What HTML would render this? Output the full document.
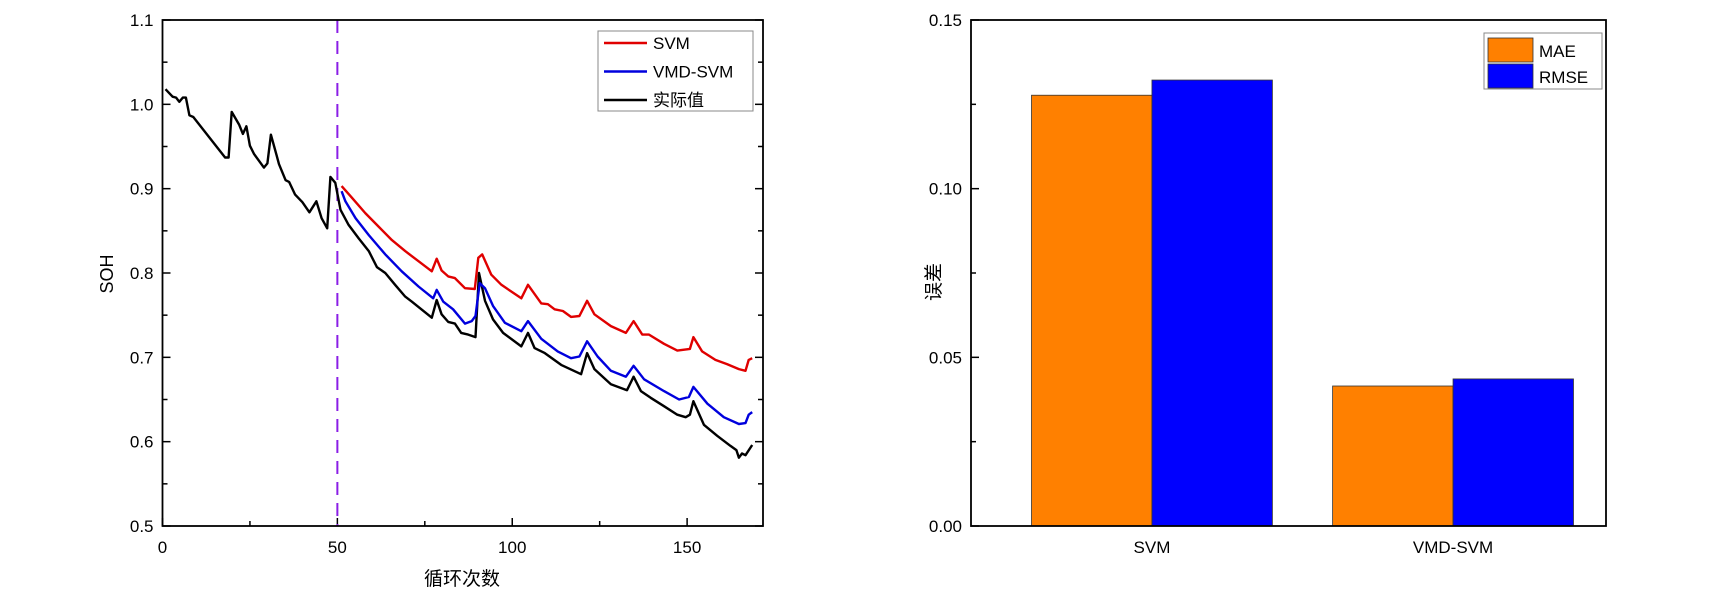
<!DOCTYPE html>
<html><head><meta charset="utf-8"><style>
html,body{margin:0;padding:0;background:#fff;}
svg{display:block;font-family:"Liberation Sans","Noto Sans CJK SC",sans-serif;}
</style></head><body>
<svg id="fig" width="1733" height="613" viewBox="0 0 1733 613" xmlns="http://www.w3.org/2000/svg">
<g id="left"></g>
<g id="right"></g>
</svg>
<script>
// ---------- Left chart data ----------
const xTicks = [0, 50, 100, 150];
const yTicks = [0.5, 0.6, 0.7, 0.8, 0.9, 1.0, 1.1];
const yTickLabels = ["0.5","0.6","0.7","0.8","0.9","1.0","1.1"];
const splitCycle = 50;
const actualCycles = [0.85,2.9,3.9,4.8,5.8,6.7,7.7,8.8,17.9,18.9,19.8,21.9,23,24,25,26.2,29,30,31,32.6,33.3,35.2,36.2,37.9,40,42,44,45.5,47.1,48,49.4,50.9,53.2,56.1,59,61.3,63.7,66.5,69.4,71.3,77,78.4,79.8,81.7,83.6,85.4,87.4,89.5,90.5,92.2,94.5,97.4,102.6,104.5,106.4,109.3,114,119.7,121.4,123.5,128.2,132.8,134.7,136.8,139.6,143.4,147.2,149.6,150.8,151.8,154.8,158.6,162.4,164.1,164.8,165.7,166.7,168.6];
const actualValues = [1.018,1.009,1.008,1.003,1.008,1.008,0.987,0.985,0.937,0.937,0.991,0.976,0.965,0.974,0.951,0.941,0.925,0.930,0.964,0.940,0.929,0.910,0.908,0.893,0.884,0.872,0.885,0.865,0.853,0.914,0.907,0.875,0.857,0.841,0.826,0.807,0.800,0.786,0.772,0.766,0.747,0.768,0.751,0.742,0.740,0.729,0.727,0.724,0.800,0.767,0.745,0.729,0.713,0.729,0.711,0.705,0.691,0.680,0.705,0.686,0.668,0.661,0.677,0.660,0.652,0.642,0.632,0.629,0.632,0.648,0.620,0.607,0.595,0.590,0.581,0.586,0.584,0.596];
const svmCycles = [51.2,54.2,58,61.8,65.6,69.4,73.2,77,78.4,79.8,81.7,83.6,86.5,89.3,90.3,91.4,94,96.9,102.6,104.5,108.3,110.2,112.1,114.5,116.8,119.2,121.4,123.5,128.2,132.5,134.7,137.2,139.1,143.4,147.2,150.8,151.8,154.3,158.1,161.4,164.8,166.7,167.6,168.6];
const svmValues = [0.903,0.889,0.871,0.855,0.839,0.826,0.814,0.802,0.817,0.803,0.796,0.794,0.782,0.781,0.818,0.822,0.798,0.786,0.770,0.786,0.764,0.763,0.757,0.755,0.748,0.749,0.767,0.751,0.737,0.729,0.743,0.727,0.727,0.716,0.708,0.710,0.724,0.707,0.697,0.692,0.686,0.684,0.697,0.699];
const vmdCycles = [51.2,52.3,55.2,59,63.7,68.4,73.2,77.4,78.4,80.3,83.1,86.5,88.4,89.5,90.7,92.2,94.5,97.9,102.6,104.5,108.3,113,116.8,119.2,121.4,124.4,128.2,132.5,134.7,137.7,143.4,147.7,150.5,151.8,155.8,160.5,164.8,166.7,167.6,168.6];
const vmdValues = [0.897,0.885,0.865,0.845,0.822,0.802,0.784,0.770,0.780,0.766,0.757,0.740,0.743,0.749,0.788,0.782,0.761,0.741,0.731,0.743,0.722,0.707,0.699,0.701,0.719,0.701,0.684,0.677,0.690,0.674,0.660,0.650,0.653,0.665,0.645,0.629,0.621,0.622,0.632,0.635];

// ---------- Right chart data ----------
const barCategories = ["SVM", "VMD-SVM"];
const maeValues = [0.1277, 0.0415];
const rmseValues = [0.1322, 0.0436];
const barYTicks = [0, 0.05, 0.10, 0.15];
const barYTickLabels = ["0.00","0.05","0.10","0.15"];

const NS = "http://www.w3.org/2000/svg";
function mk(parent, tag, attrs, text){
  const e = document.createElementNS(NS, tag);
  for (const k in attrs) e.setAttribute(k, attrs[k]);
  if (text !== undefined) e.textContent = text;
  parent.appendChild(e);
  return e;
}

// ---------- Left chart ----------
const L = document.getElementById('left');
const lx0 = 162.5, lx1 = 763, ly0 = 20, ly1 = 526;
const xMin = 0, xMax = 171.7, yMin = 0.5, yMax = 1.1;
const sx = c => lx0 + (c - xMin) / (xMax - xMin) * (lx1 - lx0);
const sy = v => ly1 - (v - yMin) / (yMax - yMin) * (ly1 - ly0);

for (let i = 0; i < xTicks.length; i++) {
  const x = sx(xTicks[i]);
  let t = mk(L, 'line', {x1:x, y1:ly1, x2:x, y2:ly1-8, stroke:'#000','stroke-width':1.5});
  
  
  const lab = mk(L, 'text', {x:x, y:ly1+27, 'font-size':17, 'text-anchor':'middle'}, String(xTicks[i]));
  
  
  const m = xTicks[i] + 25;
  if (sx(m) < lx1) {
    const mt = mk(L, 'line', {x1:sx(m), y1:ly1, x2:sx(m), y2:ly1-5, stroke:'#000','stroke-width':1.5});
    
    
  }
}
for (let i = 0; i < yTicks.length; i++) {
  const y = sy(yTicks[i]);
  for (const [xa, dir] of [[lx0, 1], [lx1, -1]]) {
    const t = mk(L, 'line', {x1:xa, y1:y, x2:xa+dir*8, y2:y, stroke:'#000','stroke-width':1.5});
    
    
    if (i < yTicks.length - 1) {
      const ym = sy(yTicks[i] + 0.05);
      const mt = mk(L, 'line', {x1:xa, y1:ym, x2:xa+dir*5, y2:ym, stroke:'#000','stroke-width':1.5});
      
      
    }
  }
  const lab = mk(L, 'text', {x:lx0-9, y:y+6, 'font-size':17, 'text-anchor':'end'}, yTickLabels[i]);
  
  
}

const split = mk(L, 'line', {x1:sx(splitCycle), y1:ly0, x2:sx(splitCycle), y2:ly1, stroke:'#8a1ee6','stroke-width':2,'stroke-dasharray':'13,8'});



function drawLine(cs, vs, color, name){
  const pts = cs.map((c, i) => sx(c).toFixed(1) + ',' + sy(vs[i]).toFixed(1)).join(' ');
  const p = mk(L, 'polyline', {points:pts, fill:'none', stroke:color, 'stroke-width':2.4, 'stroke-linejoin':'round'});
  
  
}
drawLine(actualCycles, actualValues, '#000000', 'actual-soh-line');
drawLine(vmdCycles, vmdValues, '#0000dd', 'vmd-svm-line');
drawLine(svmCycles, svmValues, '#e00000', 'svm-line');

const lf = mk(L, 'rect', {x:lx0, y:ly0, width:lx1-lx0, height:ly1-ly0, fill:'none', stroke:'#000', 'stroke-width':1.8});



const lg = mk(L, 'g', {});


mk(lg, 'rect', {x:598, y:31, width:155, height:80, fill:'#fff', stroke:'#888', 'stroke-width':1});
const legItems = [['SVM','#e00000'],['VMD-SVM','#0000dd'],['实际值','#000']];
legItems.forEach((it, i) => {
  const y = 43 + i * 28.5;
  const ge = mk(lg, 'g', {});
  
  
  mk(ge, 'line', {x1:604, y1:y, x2:647, y2:y, stroke:it[1], 'stroke-width':2.4});
  mk(ge, 'text', {x:653, y:y+6, 'font-size':17}, it[0]);
});

const yt = mk(L, 'text', {x:113, y:274, 'font-size':18, 'text-anchor':'middle', transform:'rotate(-90 113 274)'}, 'SOH');


const xt = mk(L, 'text', {x:462, y:585, 'font-size':19, 'text-anchor':'middle'}, '循环次数');



// ---------- Right chart ----------
const R = document.getElementById('right');
const rx0 = 971, rx1 = 1606, ry0 = 20, ry1 = 526;
const bxMin = 0.399, bxMax = 2.508, byMax = 0.15;
const bx = c => rx0 + (c - bxMin) / (bxMax - bxMin) * (rx1 - rx0);
const by = v => ry1 - v / byMax * (ry1 - ry0);
const barW = 0.4;

for (let i = 0; i < barYTicks.length; i++) {
  const y = by(barYTicks[i]);
  const t = mk(R, 'line', {x1:rx0, y1:y, x2:rx0+8, y2:y, stroke:'#000','stroke-width':1.5});
  
  
  if (i < barYTicks.length - 1) {
    const ym = by(barYTicks[i] + 0.025);
    const mt = mk(R, 'line', {x1:rx0, y1:ym, x2:rx0+5, y2:ym, stroke:'#000','stroke-width':1.5});
    
    
  }
  const lab = mk(R, 'text', {x:rx0-9, y:y+6, 'font-size':17, 'text-anchor':'end'}, barYTickLabels[i]);
  
  
}

barCategories.forEach((cat, i) => {
  const c = i + 1;
  const b1 = mk(R, 'rect', {x:bx(c-barW), y:by(maeValues[i]), width:bx(c)-bx(c-barW), height:ry1-by(maeValues[i]), fill:'#ff8000', stroke:'#333', 'stroke-width':0.8});
  
  
  const b2 = mk(R, 'rect', {x:bx(c), y:by(rmseValues[i]), width:bx(c+barW)-bx(c), height:ry1-by(rmseValues[i]), fill:'#0000ff', stroke:'#333', 'stroke-width':0.8});
  
  
  const lab = mk(R, 'text', {x:bx(c), y:ry1+27, 'font-size':17, 'text-anchor':'middle'}, cat);
  
  
});

const rf = mk(R, 'rect', {x:rx0, y:ry0, width:rx1-rx0, height:ry1-ry0, fill:'none', stroke:'#000', 'stroke-width':1.8});



const rl = mk(R, 'g', {});


mk(rl, 'rect', {x:1484, y:33, width:118, height:56, fill:'#fff', stroke:'#888', 'stroke-width':1});
[['MAE','#ff8000',38],['RMSE','#0000ff',64]].forEach(it => {
  const ge = mk(rl, 'g', {});
  
  
  mk(ge, 'rect', {x:1488, y:it[2], width:45, height:24, fill:it[1], stroke:'#333', 'stroke-width':0.8});
  mk(ge, 'text', {x:1539, y:it[2]+19, 'font-size':17}, it[0]);
});

const ryt = mk(R, 'text', {x:940, y:282, 'font-size':19, 'text-anchor':'middle', transform:'rotate(-90 940 282)'}, '误差');


</script>
</body></html>
